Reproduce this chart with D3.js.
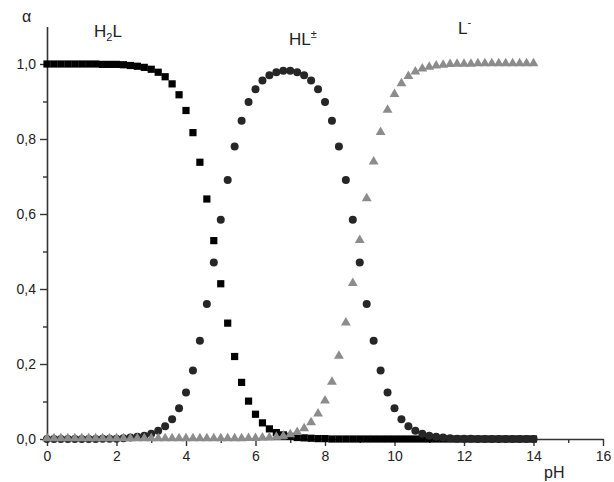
<!DOCTYPE html>
<html>
<head>
<meta charset="utf-8">
<script src="https://cdn.jsdelivr.net/npm/d3@7"></script>
<style>
  body { margin: 0; background: #fff; }
  svg { font-family: "Liberation Sans", Arial, sans-serif; }
</style>
</head>
<body>
<div id="chart"></div>
<script>
// pH values (x)
const ph = [0,0.2,0.4,0.6,0.8,1,1.2,1.4,1.6,1.8,2,2.2,2.4,2.6,2.8,3,3.2,3.4,3.6,3.8,
  4,4.2,4.4,4.6,4.8,5,5.2,5.4,5.6,5.8,6,6.2,6.4,6.6,6.8,7,7.2,7.4,7.6,7.8,
  8,8.2,8.4,8.6,8.8,9,9.2,9.4,9.6,9.8,10,10.2,10.4,10.6,10.8,11,11.2,11.4,11.6,11.8,
  12,12.2,12.4,12.6,12.8,13,13.2,13.4,13.6,13.8,14];

// alpha(H2L)
const h2l = [1,1,1,1,1,1,1,1,0.999,0.999,0.999,0.998,0.996,0.994,0.991,0.986,0.978,0.966,0.947,0.918,
  0.876,0.817,0.738,0.640,0.529,0.414,0.309,0.220,0.151,0.101,0.066,0.043,0.027,0.017,0.011,0.007,0.004,0.003,0.002,0.001,
  0.001,0,0,0,0,0,0,0,0,0,0,0,0,0,0,0,0,0,0,0,
  0,0,0,0,0,0,0,0,0,0,0];

// alpha(HL+-)
const hl = [0,0,0,0,0,0,0,0,0.001,0.001,0.001,0.002,0.004,0.006,0.009,0.014,0.022,0.034,0.053,0.082,
  0.124,0.183,0.262,0.360,0.471,0.585,0.691,0.780,0.849,0.899,0.933,0.956,0.970,0.978,0.982,0.982,0.978,0.970,0.956,0.933,
  0.899,0.849,0.780,0.691,0.585,0.471,0.360,0.262,0.183,0.124,0.082,0.053,0.034,0.022,0.014,0.009,0.006,0.004,0.002,0.001,
  0.001,0.001,0,0,0,0,0,0,0,0,0];

// alpha(L-)
const lm = [0,0,0,0,0,0,0,0,0,0,0,0,0,0,0,0,0,0,0,0,
  0,0,0,0,0,0,0,0,0,0.001,0.001,0.002,0.003,0.004,0.007,0.011,0.017,0.027,0.043,0.066,
  0.101,0.151,0.220,0.309,0.414,0.529,0.640,0.738,0.817,0.876,0.918,0.947,0.966,0.978,0.986,0.991,0.994,0.996,0.998,0.999,
  0.999,0.999,1,1,1,1,1,1,1,1,1];

const xMajor = [0,2,4,6,8,10,12,14,16];
const xMinor = [1,3,5,7,9,11,13,15];
const yMajor = [0,0.2,0.4,0.6,0.8,1.0];
const yMinor = [0.1,0.3,0.5,0.7,0.9];

const width = 614, height = 482;

const svg = d3.select("#chart").append("svg")
  .attr("width", width)
  .attr("height", height);

const x = d3.scaleLinear().domain([0, 16]).range([47, 603]);
const y = d3.scaleLinear().domain([0, 1.1]).range([439, 26.5]);

const comma = d => d3.format(".1f")(d).replace(".", ",");

// minor ticks first (no labels)
svg.append("g")
  .attr("transform", "translate(0," + y(0) + ")")
  .call(d3.axisBottom(x).tickValues(xMinor).tickSize(4).tickSizeOuter(0).tickFormat(""))
  .call(g => g.select(".domain").remove());
svg.append("g")
  .attr("transform", "translate(" + x(0) + ",0)")
  .call(d3.axisLeft(y).tickValues(yMinor).tickSize(4).tickSizeOuter(0).tickFormat(""))
  .call(g => g.select(".domain").remove());

svg.append("g")
  .attr("transform", "translate(0," + y(0) + ")")
  .call(d3.axisBottom(x).tickValues(xMajor).tickSize(7).tickSizeOuter(0).tickPadding(5));

svg.append("g")
  .attr("transform", "translate(" + x(0) + ",0)")
  .call(d3.axisLeft(y).tickValues(yMajor).tickSize(7).tickSizeOuter(0).tickPadding(4).tickFormat(comma));

svg.selectAll(".tick line").attr("stroke", "#333").attr("stroke-width", 1.4);
svg.selectAll(".domain").attr("stroke", "#333").attr("stroke-width", 1.6);
svg.selectAll(".tick text").attr("font-size", 14).attr("fill", "#222")
  .attr("font-family", "Liberation Sans, Arial, sans-serif");

// series: squares, circles, triangles
const plot = svg.append("g");

plot.append("g").selectAll("rect")
  .data(ph.map((p, i) => [p, h2l[i]]))
  .enter()
  .append("rect")
  .attr("x", d => x(d[0]) - 3.6)
  .attr("y", d => y(d[1]) - 3.6)
  .attr("width", 7.2)
  .attr("height", 7.2)
  .attr("fill", "#000");

plot.append("g").selectAll("circle")
  .data(ph.map((p, i) => [p, hl[i]]))
  .enter()
  .append("circle")
  .attr("cx", d => x(d[0]))
  .attr("cy", d => y(d[1]))
  .attr("r", 4)
  .attr("fill", "#262626");

const tri = d3.symbol().type(d3.symbolTriangle).size(42);
plot.append("g").selectAll("path")
  .data(ph.map((p, i) => [p, lm[i]]))
  .enter()
  .append("path")
  .attr("d", tri)
  .attr("transform", d => "translate(" + x(d[0]) + "," + (y(d[1]) - 0.5) + ")")
  .attr("fill", "#8c8c8c");

// labels
const lbl = svg.append("g").attr("fill", "#222").attr("font-size", 17);

lbl.append("text").attr("x", 22).attr("y", 22).attr("font-size", 16).text("α");

const t1 = lbl.append("text").attr("x", 94).attr("y", 37);
t1.append("tspan").text("H");
t1.append("tspan").attr("font-size", 11).attr("dy", 4).text("2");
t1.append("tspan").attr("dy", -4).text("L");

const t2 = lbl.append("text").attr("x", 289).attr("y", 45);
t2.append("tspan").text("HL");
t2.append("tspan").attr("font-size", 11).attr("dy", -7).text("±");

const t3 = lbl.append("text").attr("x", 458).attr("y", 34);
t3.append("tspan").text("L");
t3.append("tspan").attr("font-size", 11).attr("dy", -8).text("-");

lbl.append("text").attr("x", 544).attr("y", 478).attr("font-size", 16).text("pH");
</script>
</body>
</html>
